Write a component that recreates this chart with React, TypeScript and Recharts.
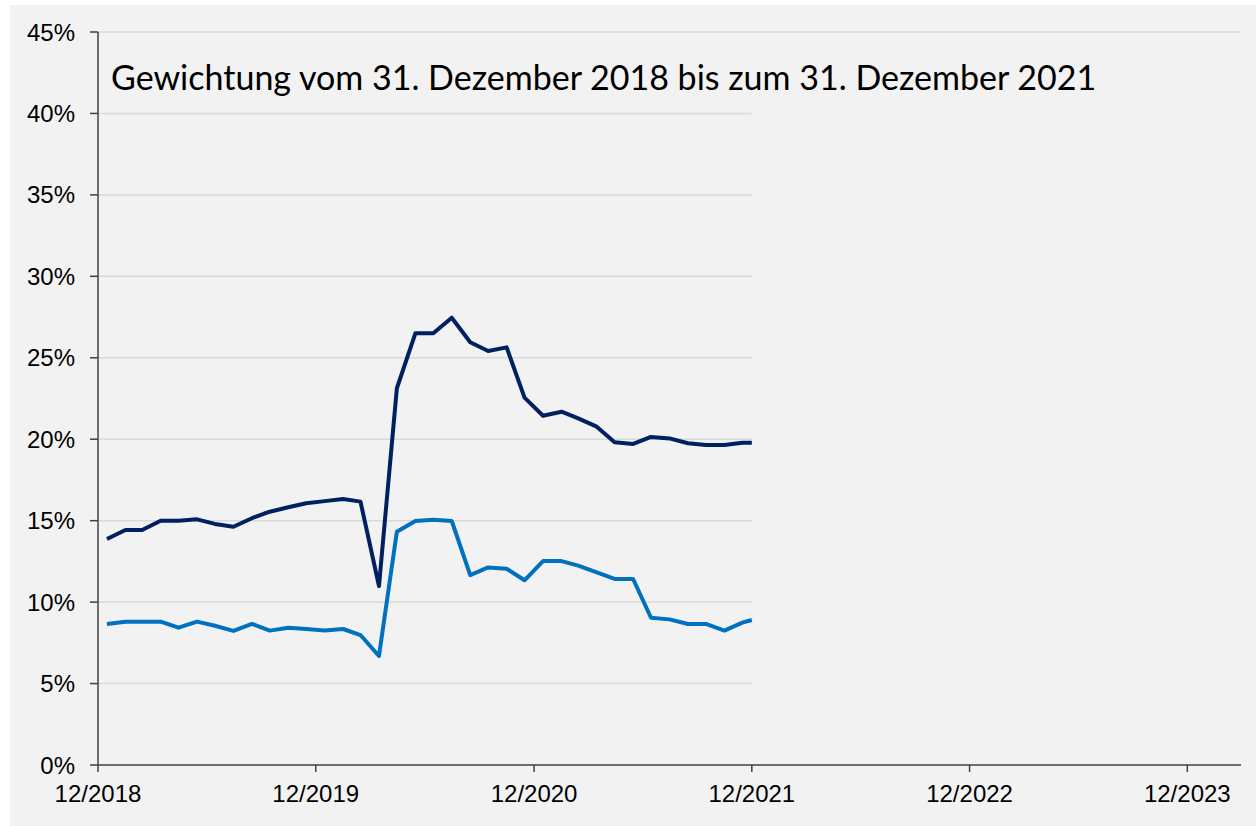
import React from 'react';
import { LineChart, Line, XAxis, YAxis, ReferenceLine } from 'recharts';

// Observation dates (mid-month values plus the closing value at 31 Dec 2021)
const dates: string[] = [
  '2019-01-15', '2019-02-15', '2019-03-15', '2019-04-15', '2019-05-15', '2019-06-15',
  '2019-07-15', '2019-08-15', '2019-09-15', '2019-10-15', '2019-11-15', '2019-12-15',
  '2020-01-15', '2020-02-15', '2020-03-15', '2020-04-15', '2020-05-15', '2020-06-15',
  '2020-07-15', '2020-08-15', '2020-09-15', '2020-10-15', '2020-11-15', '2020-12-15',
  '2021-01-15', '2021-02-15', '2021-03-15', '2021-04-15', '2021-05-15', '2021-06-15',
  '2021-07-15', '2021-08-15', '2021-09-15', '2021-10-15', '2021-11-15', '2021-12-15',
  '2021-12-31',
];

const seriesDark: number[] = [
  13.87, 14.43, 14.43, 15.0, 15.0, 15.08, 14.8, 14.63, 15.15, 15.55, 15.82, 16.07,
  16.2, 16.33, 16.17, 10.99, 23.13, 26.5, 26.5, 27.46, 25.95, 25.42, 25.64, 22.55,
  21.44, 21.69, 21.28, 20.77, 19.81, 19.71, 20.14, 20.05, 19.75, 19.65, 19.65, 19.79,
  19.79,
];

const seriesLight: number[] = [
  8.66, 8.8, 8.8, 8.8, 8.43, 8.8, 8.55, 8.23, 8.66, 8.25, 8.43, 8.35,
  8.25, 8.35, 7.98, 6.69, 14.32, 14.98, 15.06, 14.98, 11.66, 12.13, 12.05, 11.34,
  12.52, 12.52, 12.24, 11.83, 11.42, 11.42, 9.04, 8.94, 8.66, 8.66, 8.25, 8.74,
  8.9,
];

const xTickDates: string[] = ['2018-12-31', '2019-12-31', '2020-12-31', '2021-12-31', '2022-12-31', '2023-12-31'];
const xTickLabels: string[] = ['12/2018', '12/2019', '12/2020', '12/2021', '12/2022', '12/2023'];
const xDomainDates: string[] = ['2018-12-31', '2024-03-30'];
const gridEndDate = '2021-12-31';
const yTicks: number[] = [0, 5, 10, 15, 20, 25, 30, 35, 40, 45];
const title = 'Gewichtung vom 31. Dezember 2018 bis zum 31. Dezember 2021';

const toTime = (s: string) => new Date(s + 'T00:00:00Z').getTime();

const data = dates.map((d, i) => ({ t: toTime(d), dark: seriesDark[i], light: seriesLight[i] }));
const xTicks = xTickDates.map(toTime);
const xDomain = xDomainDates.map(toTime);
const gridStart = xDomain[0];
const gridEnd = toTime(gridEndDate);
const yMax = yTicks[yTicks.length - 1];

const labelFor = (v: number) => {
  const i = xTicks.findIndex((t) => Math.abs(t - v) < 86400000);
  return i >= 0 ? xTickLabels[i] : '';
};

const axisColor = '#404040';
const tickStyle = { fill: '#000000', fontSize: 24, fontFamily: '"Liberation Sans", Arial, sans-serif' };

export default function App() {
  return (
    <div style={{ position: 'absolute', left: 0, top: 0, width: 1256, height: 826, background: '#ffffff' }}>
      <div style={{ position: 'absolute', left: 10, top: 5, width: 1246, height: 821, background: '#f2f2f2' }}>
        <LineChart width={1246} height={821} data={data} margin={{ top: 27, right: 15, bottom: 31, left: 0 }}>
          {yTicks.filter((v) => v > 0).map((v) => (
            <ReferenceLine
              key={v}
              segment={[{ x: gridStart, y: v }, { x: v === yMax ? xDomain[1] : gridEnd, y: v }]}
              stroke="#d9d9d9"
              strokeWidth={1.5}
              ifOverflow="visible"
            />
          ))}
          <XAxis
            type="number"
            dataKey="t"
            scale="linear"
            domain={xDomain}
            allowDataOverflow
            ticks={xTicks}
            interval={0}
            tickFormatter={labelFor}
            axisLine={{ stroke: axisColor, strokeWidth: 1.5 }}
            tickLine={{ stroke: axisColor, strokeWidth: 1.5 }}
            tickSize={7}
            tickMargin={13}
            height={30}
            tick={tickStyle}
          />
          <YAxis
            type="number"
            domain={[0, 45]}
            ticks={yTicks}
            interval={0}
            tickFormatter={(v: number) => `${v}%`}
            axisLine={{ stroke: axisColor, strokeWidth: 1.5 }}
            tickLine={{ stroke: axisColor, strokeWidth: 1.5 }}
            tickSize={8}
            tickMargin={15}
            width={88}
            tick={tickStyle}
          />
          <Line
            type="linear"
            dataKey="light"
            stroke="#0070c0"
            strokeWidth={4}
            dot={false}
            activeDot={false}
            strokeLinejoin="round"
            isAnimationActive={false}
          />
          <Line
            type="linear"
            dataKey="dark"
            stroke="#002060"
            strokeWidth={4}
            dot={false}
            activeDot={false}
            strokeLinejoin="round"
            isAnimationActive={false}
          />
        </LineChart>
        <svg
          width={1246}
          height={120}
          style={{ position: 'absolute', left: 0, top: 0, pointerEvents: 'none' }}
        >
          <text
            x={101}
            y={85}
            fontFamily='Lato, "Open Sans", sans-serif'
            fontSize={34}
            fill="#000000"
          >
            {title}
          </text>
        </svg>
      </div>
    </div>
  );
}
